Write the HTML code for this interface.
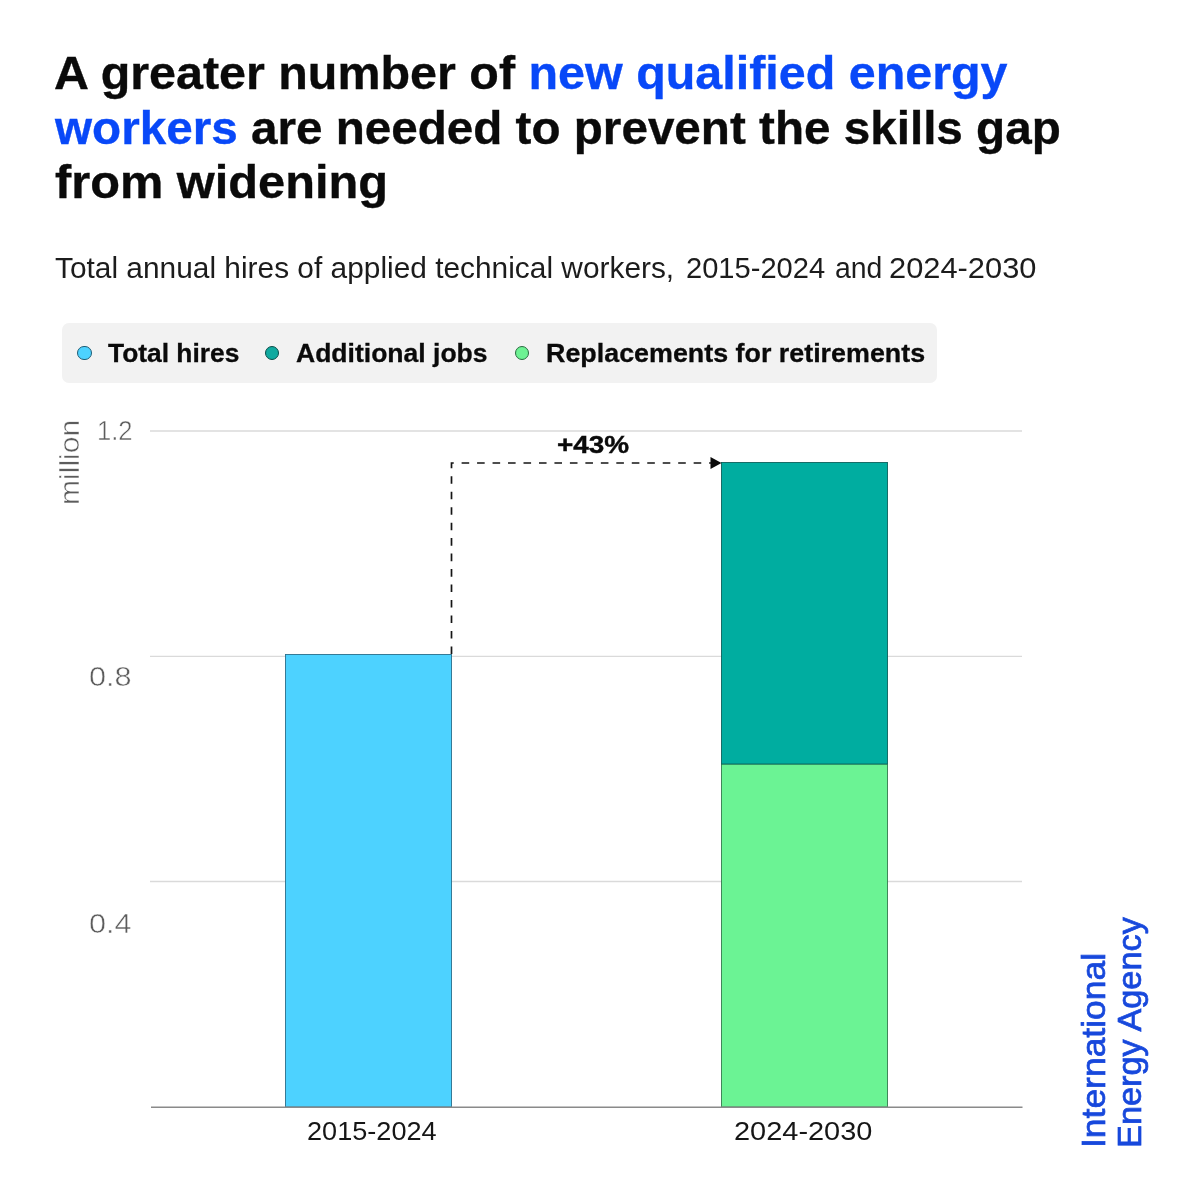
<!DOCTYPE html>
<html lang="en">
<head>
<meta charset="utf-8">
<title>IEA – new qualified energy workers</title>
<style>
html,body{margin:0;padding:0;background:#fff;}
body{width:1200px;height:1200px;position:relative;overflow:hidden;font-family:"Liberation Sans",Arial,sans-serif;color:#0a0a0a;}
.t{position:absolute;white-space:pre;line-height:1;transform-origin:0 0;margin:0;}
.h{font-weight:bold;font-size:46px;color:#0a0a0a;-webkit-text-stroke:0.35px currentColor;}
.bl{color:#0848f8;-webkit-text-stroke:0.35px #0848f8;}
.sub{font-size:30px;color:#1c1c1c;}
.lg{font-weight:bold;font-size:26px;color:#0a0a0a;-webkit-text-stroke:0.3px #0a0a0a;}
.yl{font-size:28px;color:#5c5c5c;-webkit-text-stroke:0.5px #fff;}
.xl{font-size:26px;color:#161616;}
#legend{position:absolute;left:62px;top:323px;width:875px;height:60px;background:#f2f2f2;border-radius:7px;}
.dot{position:absolute;width:12.8px;height:12.8px;border-radius:50%;border:1.2px solid #234;top:345.7px;}
svg{position:absolute;left:0;top:0;}
</style>
</head>
<body>
<div class="t h" id="h1" style="left:54.18px;top:50px;transform:scaleX(1.0528)">A greater number of <span class="bl">new qualified energy</span></div>
<div class="t h" id="h2" style="left:54.67px;top:105px;transform:scaleX(1.0353)"><span class="bl">workers</span> are needed to prevent the skills gap</div>
<div class="t h" id="h3" style="left:54.96px;top:158.5px;transform:scaleX(1.0596)">from widening</div>

<div class="t sub" id="subA" style="left:55.49px;top:253px;transform:scaleX(0.9954)">Total annual hires of applied technical workers,</div>
<div class="t sub" id="subB" style="left:685.69px;top:253px;transform:scaleX(0.9695)">2015-2024</div>
<div class="t sub" id="subC" style="left:835.18px;top:253px;transform:scaleX(0.9459)">and</div>
<div class="t sub" id="subD" style="left:889.42px;top:253px;transform:scaleX(1.0277)">2024-2030</div>

<div id="legend"></div>
<div class="dot" style="left:76.8px;background:#4dd2ff;border-color:#1f5d75"></div>
<div class="dot" style="left:264.5px;background:#10aaa0;border-color:#0b4d49"></div>
<div class="dot" style="left:514.5px;background:#6df293;border-color:#2a6b40"></div>
<div class="t lg" id="l1" style="left:108.32px;top:340.2px;transform:scaleX(1.0143)">Total hires</div>
<div class="t lg" id="l2" style="left:296.15px;top:340.2px;transform:scaleX(1.0202)">Additional jobs</div>
<div class="t lg" id="l3" style="left:546.01px;top:340.2px;transform:scaleX(1.0329)">Replacements for retirements</div>

<svg width="1200" height="1200" viewBox="0 0 1200 1200">
  <g stroke="#dadada" stroke-width="1.3">
    <line x1="150" y1="431" x2="1022" y2="431"/>
    <line x1="150" y1="656.3" x2="1022" y2="656.3"/>
    <line x1="150" y1="881.5" x2="1022" y2="881.5"/>
  </g>
  <rect x="285.5" y="654.5" width="166" height="452.5" fill="#4dd2ff" stroke="#2a6f8c" stroke-width="0.9"/>
  <rect x="721.5" y="764" width="166" height="343" fill="#6bf394" stroke="#347a4e" stroke-width="0.9"/>
  <rect x="721.5" y="462.5" width="166" height="301.5" fill="#00ada0" stroke="#0d625c" stroke-width="0.9"/>
  <line x1="151" y1="1107.2" x2="1022.5" y2="1107.2" stroke="#8a8a8a" stroke-width="1.6"/>
  <path d="M451.5 654 V463 H712" fill="none" stroke="#151515" stroke-width="1.7" stroke-dasharray="7.6 7.87"/>
  <path d="M721.5 463 L710.5 457 V469 Z" fill="#0a0a0a"/>
</svg>

<div class="t" id="pct" style="left:556.55px;top:434px;font-weight:bold;font-size:23px;-webkit-text-stroke:0.4px #0a0a0a;transform:scaleX(1.2124)">+43%</div>

<div class="t yl" id="y12" style="left:97.1px;top:416.9px;transform:scaleX(0.915)">1.2</div>
<div class="t yl" id="y08" style="left:89.3px;top:663px;transform:scaleX(1.095)">0.8</div>
<div class="t yl" id="y04" style="left:89.3px;top:910px;transform:scaleX(1.095)">0.4</div>
<div class="t yl" id="mil" style="left:56px;top:505px;font-size:27.4px;color:#5c5c5c;transform:rotate(-90deg) scaleX(1.098)">million</div>

<div class="t xl" id="x1" style="left:306.86px;top:1118px;transform:scaleX(1.0423)">2015-2024</div>
<div class="t xl" id="x2" style="left:733.80px;top:1118px;transform:scaleX(1.1130)">2024-2030</div>

<div class="t" id="iea1" style="left:1077px;top:1148px;font-size:33px;font-weight:normal;-webkit-text-stroke:0.7px #1748dc;color:#1748dc;transform:rotate(-90deg) scaleX(1.074)">International</div>
<div class="t" id="iea2" style="left:1113px;top:1148px;font-size:33px;font-weight:normal;-webkit-text-stroke:0.7px #1748dc;color:#1748dc;transform:rotate(-90deg) scaleX(1.04)">Energy Agency</div>
</body>
</html>
